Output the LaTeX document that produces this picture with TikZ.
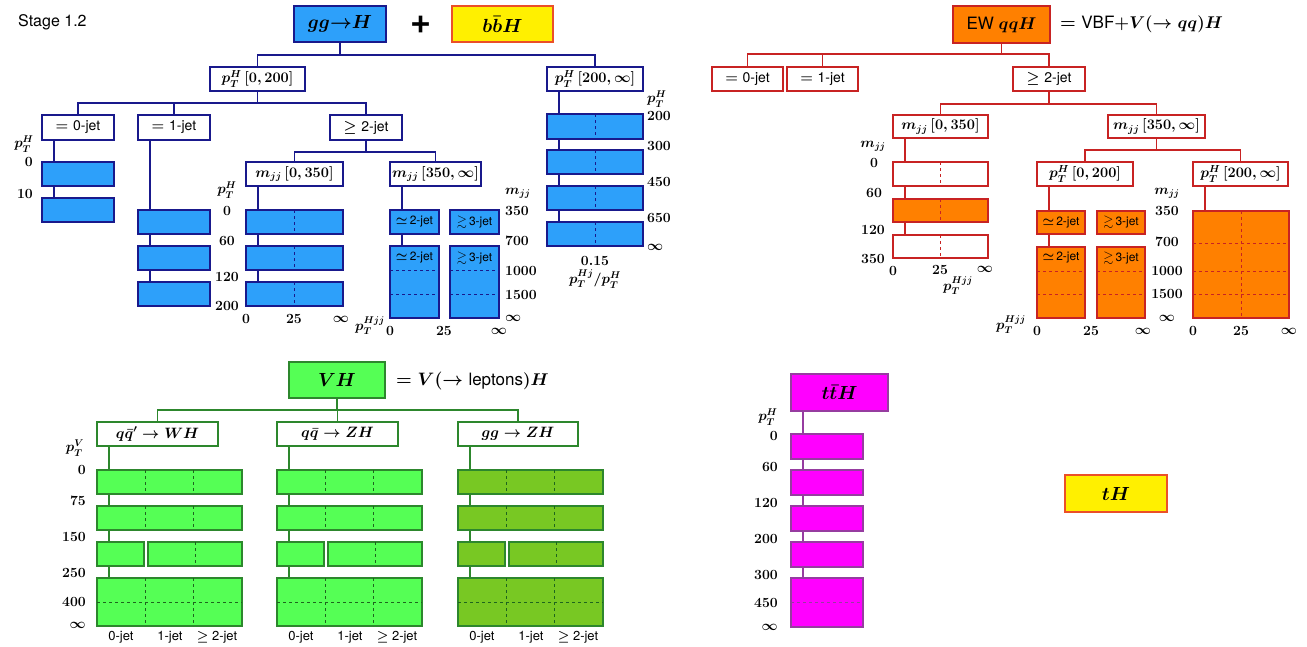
\RequirePackage{fix-cm}
\documentclass[tikz,border=0pt]{standalone}
\usepackage{amsmath,amssymb}
\usepackage[no-math]{fontspec}
\newfontfamily\hv{TeX Gyre Heros}
\usetikzlibrary{calc}
\definecolor{gblue}{RGB}{45,160,250}
\definecolor{navy}{RGB}{25,25,140}
\definecolor{yel}{RGB}{255,240,0}
\definecolor{yelb}{RGB}{235,80,40}
\definecolor{orng}{RGB}{255,128,0}
\definecolor{rdb}{RGB}{200,35,35}
\definecolor{lgrn}{RGB}{85,255,85}
\definecolor{ogrn}{RGB}{120,200,35}
\definecolor{dgrn}{RGB}{45,135,45}
\definecolor{dshg}{RGB}{30,100,30}
\definecolor{mag}{RGB}{255,0,255}
\definecolor{purp}{RGB}{150,60,160}
\newcommand\fs[1]{\fontsize{#1}{#1}\selectfont}
\newcommand\bx[7]{\node[#6, minimum width={(#4)-(#2)}, minimum height={(#5)-(#3)}] (#1) at ({((#2)+(#4))/2},{((#3)+(#5))/2}) {#7};}
\newcommand\vl[3]{\draw[#1] ([xshift=12pt]#2.south west) -- ([xshift=12pt]#3.north west);}
\newcounter{lc}
\newcommand\lab[3][]{\stepcounter{lc}\node[num,#1] (l\arabic{lc}) at (#2) {$#3$};}
\newcommand\jt[1]{{\hv\fs{14}#1}}
\newcommand\sj[1]{{\hv\fs{12}#1}}
\newcommand\vd[2]{\draw[#1] ($(#2.north west)!0.5!(#2.north east)$) -- ($(#2.south west)!0.5!(#2.south east)$);}
\newcommand\vt[2]{\draw[#1] ($(#2.north west)!0.3333!(#2.north east)$) -- ($(#2.south west)!0.3333!(#2.south east)$);
  \draw[#1] ($(#2.north west)!0.6667!(#2.north east)$) -- ($(#2.south west)!0.6667!(#2.south east)$);}
\newcommand\hd[3]{\draw[#1] (#2.west |- 0,#3) -- (#2.east |- 0,#3);}
\begin{document}
\begin{tikzpicture}[x=1pt,y=-1pt,
  bx/.style={draw, line width=1.4pt, inner sep=0pt, outer sep=0pt, text=black},
  num/.style={inner sep=0pt, font=\fs{14}\boldmath},
  nb/.style={bx, draw=navy, fill=white, font=\fs{14.5}\boldmath},
  bb/.style={bx, draw=navy, fill=gblue, font=\fs{13}\boldmath},
  nl/.style={draw=navy, line width=1.3pt},
  nd/.style={draw=navy, line width=1pt, dash pattern=on 3pt off 3pt},
  rb/.style={bx, draw=rdb, fill=white, font=\fs{14.5}\boldmath},
  ob/.style={bx, draw=rdb, fill=orng, font=\fs{13}\boldmath},
  rl/.style={draw=rdb, line width=1.3pt},
  rd/.style={draw=rdb, line width=1pt, dash pattern=on 3pt off 3pt},
  gb/.style={bx, draw=dgrn, fill=white, font=\fs{15}\boldmath},
  lgbox/.style={bx, draw=dgrn, fill=lgrn},
  ogbox/.style={bx, draw=dgrn, fill=ogrn},
  gl/.style={draw=dgrn, line width=1.3pt},
  gd/.style={draw=dshg, line width=1pt, dash pattern=on 3pt off 3pt},
  mb/.style={bx, draw=purp, fill=mag},
  ml/.style={draw=purp, line width=1.3pt},
  md/.style={draw=purp, line width=1pt, dash pattern=on 3pt off 3pt},
  yb/.style={bx, draw=yelb, fill=yel, font=\fs{19}\boldmath},
  big/.style={font=\fs{19}\boldmath},
  jetlab/.style={inner sep=0pt, font=\hv\fs{13}\boldmath}]
\useasboundingbox (0,0) rectangle (1307,646);

% ================= ggH + bbH =================
\node[anchor=west, inner sep=0pt, font=\hv\fs{16}] (stage) at (18,22) {Stage 1.2};
\bx{ggH}{294}{6}{386}{42}{bx,draw=navy,fill=gblue,big}{$gg{\to}H$}
\node[inner sep=0pt, font=\hv\bfseries\fs{36}] (plus) at (421,25) {+};
\bx{bbH}{452}{6}{553}{42}{yb}{$b\bar bH$}
\bx{p1}{210}{67}{305}{91}{nb}{$p_T^H\,[0,200]$}
\bx{p2}{547}{67}{643}{91}{nb}{$p_T^H\,[200,\infty]$}
\draw[nl] (ggH.south) -- ++(0,13) -| (p1.north);
\draw[nl] (ggH.south) ++(0,13) -| (p2.north);
\bx{j0}{42}{115}{114}{140}{nb}{$=$ \jt{0-jet}}
\bx{j1}{138}{115}{210}{140}{nb}{$=$ \jt{1-jet}}
\bx{j2}{330}{115}{402}{140}{nb}{$\geq$ \jt{2-jet}}
\draw[nl] (p1.south) -- ++(0,12) -| (j0.north);
\draw[nl] (p1.south) ++(0,12) -| (j1.north);
\draw[nl] (p1.south) ++(0,12) -| (j2.north);
\bx{m1}{246}{162}{343}{186}{nb}{$m_{jj}\,[0,350]$}
\bx{m2}{390}{162}{481}{186}{nb}{$m_{jj}\,[350,\infty]$}
\draw[nl] (j2.south) -- ++(0,12) -| (m1.north);
\draw[nl] (j2.south) ++(0,12) -| (m2.north);
% 0-jet
\bx{a1}{42}{162}{114}{186}{bb}{}
\bx{a2}{42}{198}{114}{222}{bb}{}
\vl{nl}{j0}{a1}\vl{nl}{a1}{a2}
\lab{24,144}{p_T^H}
\lab[anchor=east]{33,162}{0}
\lab[anchor=east]{33,194}{10}
% 1-jet
\bx{b1}{138}{210}{210}{234}{bb}{}
\bx{b2}{138}{246}{210}{270}{bb}{}
\bx{b3}{138}{282}{210}{306}{bb}{}
\vl{nl}{j1}{b1}\vl{nl}{b1}{b2}\vl{nl}{b2}{b3}
\lab{227,190}{p_T^H}
\lab{227,211}{0}
\lab{227,241}{60}
\lab{227,277}{120}
\lab{227,306}{200}
% mjj 0-350
\bx{c1}{246}{210}{343}{234}{bb}{}
\bx{c2}{246}{246}{343}{270}{bb}{}
\bx{c3}{246}{282}{343}{306}{bb}{}
\vl{nl}{m1}{c1}\vl{nl}{c1}{c2}\vl{nl}{c2}{c3}
\vd{nd}{c1}\vd{nd}{c2}\vd{nd}{c3}
\lab{246,319}{0}
\lab{294,319}{25}
\lab{341,319}{\infty}
% mjj 350-inf
\bx{d1}{390}{210}{439}{234}{bb}{$\simeq$\,\sj{2-jet}}
\bx{d2}{450}{210}{499}{234}{bb}{$\gtrsim$\,\sj{3-jet}}
\bx{d3}{390}{246}{439}{318}{bb}{}
\bx{d4}{450}{246}{499}{318}{bb}{}
\node[inner sep=0pt, font=\fs{13}\boldmath] (d3t) at (414.5,258) {$\simeq$\,\sj{2-jet}};
\node[inner sep=0pt, font=\fs{13}\boldmath] (d4t) at (474.5,258) {$\gtrsim$\,\sj{3-jet}};
\vl{nl}{m2}{d1}\vl{nl}{d1}{d3}
\hd{nd}{d3}{270}\hd{nd}{d3}{294}\hd{nd}{d4}{270}\hd{nd}{d4}{294}
\lab[anchor=west]{505,193}{m_{jj}}
\lab[anchor=west]{505,211}{350}
\lab[anchor=west]{505,241}{700}
\lab[anchor=west]{505,271}{1000}
\lab[anchor=west]{505,295}{1500}
\lab[anchor=west]{505,318}{\infty}
\lab{370,326}{p_T^{Hjj}}
\lab{390,331}{0}
\lab{444,331}{25}
\lab{499,331}{\infty}
% pT 200-inf
\bx{e1}{547}{114}{643}{139}{bb}{}
\bx{e2}{547}{150}{643}{174}{bb}{}
\bx{e3}{547}{186}{643}{210}{bb}{}
\bx{e4}{547}{222}{643}{246}{bb}{}
\vl{nl}{p2}{e1}\vl{nl}{e1}{e2}\vl{nl}{e2}{e3}\vl{nl}{e3}{e4}
\vd{nd}{e1}\vd{nd}{e2}\vd{nd}{e3}\vd{nd}{e4}
\lab[anchor=west]{647,99}{p_T^H}
\lab[anchor=west]{647,116}{200}
\lab[anchor=west]{647,146}{300}
\lab[anchor=west]{647,182}{450}
\lab[anchor=west]{647,218}{650}
\lab[anchor=west]{647,247}{\infty}
\lab{595,261}{0.15}
\lab{595,279}{p_T^{Hj}/p_T^H}

% ================= EW qqH =================
\bx{ew}{953}{6}{1050}{43}{bx,draw=rdb,fill=orng,big}{\hv\fs{17}EW $qqH$}
\node[anchor=west, inner sep=0pt, font=\fs{18}\boldmath] (ewt) at (1060,24) {$=$ \hv\fs{17}VBF$+V(\to qq)H$};
\bx{k0}{712}{67}{783}{91}{rb}{$=$ \jt{0-jet}}
\bx{k1}{787}{67}{858}{91}{rb}{$=$ \jt{1-jet}}
\bx{k2}{1013}{67}{1085}{91}{rb}{$\geq$ \jt{2-jet}}
\draw[rl] (ew.south) -- ++(0,11) -| (k0.north);
\draw[rl] (ew.south) ++(0,11) -| (k1.north);
\draw[rl] (ew.south) ++(0,11) -| (k2.north);
\bx{n1}{893}{115}{988}{138}{rb}{$m_{jj}\,[0,350]$}
\bx{n2}{1108}{115}{1205}{138}{rb}{$m_{jj}\,[350,\infty]$}
\draw[rl] (k2.south) -- ++(0,13) -| (n1.north);
\draw[rl] (k2.south) ++(0,13) -| (n2.north);
\bx{q1}{1037}{162}{1133}{186}{rb}{$p_T^H\,[0,200]$}
\bx{q2}{1193}{162}{1288}{186}{rb}{$p_T^H\,[200,\infty]$}
\draw[rl] (n2.south) -- ++(0,12) -| (q1.north);
\draw[rl] (n2.south) ++(0,12) -| (q2.north);
% mjj 0-350
\bx{f1}{893}{162}{988}{186}{rb}{}
\bx{f2}{893}{199}{988}{222}{ob}{}
\bx{f3}{893}{235}{988}{258}{rb}{}
\vl{rl}{n1}{f1}\vl{rl}{f1}{f2}\vl{rl}{f2}{f3}
\vd{rd}{f1}\vd{rd}{f2}\vd{rd}{f3}
\lab{873,146}{m_{jj}}
\lab{874,163}{0}
\lab{874,193}{60}
\lab{873,230}{120}
\lab{873,259}{350}
\lab{893,271}{0}
\lab{940,270}{25}
\lab{985,269}{\infty}
\lab{958,286}{p_T^{Hjj}}
% pT 0-200
\bx{g1}{1037}{211}{1085}{234}{ob}{$\simeq$\,\sj{2-jet}}
\bx{g2}{1097}{211}{1145}{234}{ob}{$\gtrsim$\,\sj{3-jet}}
\bx{g3}{1037}{247}{1085}{318}{ob}{}
\bx{g4}{1097}{247}{1145}{318}{ob}{}
\node[inner sep=0pt, font=\fs{13}\boldmath] (g3t) at (1061,258) {$\simeq$\,\sj{2-jet}};
\node[inner sep=0pt, font=\fs{13}\boldmath] (g4t) at (1121,258) {$\gtrsim$\,\sj{3-jet}};
\vl{rl}{q1}{g1}\vl{rl}{g1}{g3}
\hd{rd}{g3}{271}\hd{rd}{g3}{294}\hd{rd}{g4}{271}\hd{rd}{g4}{294}
\lab{1167,193}{m_{jj}}
\lab{1167,211}{350}
\lab{1167,242}{700}
\lab{1167,271}{1000}
\lab{1167,294}{1500}
\lab{1167,318}{\infty}
\lab{1011,325}{p_T^{Hjj}}
\lab{1037,331}{0}
\lab{1091,331}{25}
\lab{1143,331}{\infty}
% pT 200-inf
\bx{h1}{1193}{211}{1289}{318}{ob}{}
\vl{rl}{q2}{h1}
\vd{rd}{h1}
\hd{rd}{h1}{243}\hd{rd}{h1}{271}\hd{rd}{h1}{294}
\lab{1193,331}{0}
\lab{1241,331}{25}
\lab{1289,331}{\infty}

% ================= VH =================
\bx{vh}{289}{362}{385}{398}{bx,draw=dgrn,fill=lgrn,big}{$VH$}
\node[anchor=west, inner sep=0pt, font=\fs{18}\boldmath] (vht) at (396,381) {$=V(\to$ \hv\fs{17}leptons$)H$};
\bx{w1}{97}{422}{218}{446}{gb}{$q\bar q'\to WH$}
\bx{w2}{277}{422}{398}{446}{gb}{$q\bar q\to ZH$}
\bx{w3}{458}{422}{578}{446}{gb}{$gg\to ZH$}
\draw[gl] (vh.south) -- ++(0,12) -| (w1.north);
\draw[gl] (vh.south) ++(0,12) -| (w2.north);
\draw[gl] (vh.south) ++(0,12) -| (w3.north);
% column 1
\bx{ra1}{97}{470}{242}{494}{lgbox}{}
\bx{rb1}{97}{506}{242}{530}{lgbox}{}
\bx{rc1}{97}{542}{144}{566}{lgbox}{}
\bx{rd1}{148}{542}{242}{566}{lgbox}{}
\bx{re1}{97}{578}{242}{626}{lgbox}{}
\vl{gl}{w1}{ra1}\vl{gl}{ra1}{rb1}\vl{gl}{rb1}{rc1}\vl{gl}{rc1}{re1}
\vt{gd}{ra1}\vt{gd}{rb1}\vt{gd}{re1}\vd{gd}{rd1}\hd{gd}{re1}{602}
\node[jetlab] (xa1) at (121,637) {0-jet};
\node[jetlab] (xb1) at (170,637) {1-jet};
\node[jetlab] (xc1) at (217,637) {$\geq$ 2-jet};
% column 2
\bx{ra2}{277}{470}{422}{494}{lgbox}{}
\bx{rb2}{277}{506}{422}{530}{lgbox}{}
\bx{rc2}{277}{542}{324}{566}{lgbox}{}
\bx{rd2}{328}{542}{422}{566}{lgbox}{}
\bx{re2}{277}{578}{422}{626}{lgbox}{}
\vl{gl}{w2}{ra2}\vl{gl}{ra2}{rb2}\vl{gl}{rb2}{rc2}\vl{gl}{rc2}{re2}
\vt{gd}{ra2}\vt{gd}{rb2}\vt{gd}{re2}\vd{gd}{rd2}\hd{gd}{re2}{602}
\node[jetlab] (xa2) at (301,637) {0-jet};
\node[jetlab] (xb2) at (350,637) {1-jet};
\node[jetlab] (xc2) at (397,637) {$\geq$ 2-jet};
% column 3
\bx{ra3}{458}{470}{603}{494}{ogbox}{}
\bx{rb3}{458}{506}{603}{530}{ogbox}{}
\bx{rc3}{458}{542}{505}{566}{ogbox}{}
\bx{rd3}{509}{542}{603}{566}{ogbox}{}
\bx{re3}{458}{578}{603}{626}{ogbox}{}
\vl{gl}{w3}{ra3}\vl{gl}{ra3}{rb3}\vl{gl}{rb3}{rc3}\vl{gl}{rc3}{re3}
\vt{gd}{ra3}\vt{gd}{rb3}\vt{gd}{re3}\vd{gd}{rd3}\hd{gd}{re3}{602}
\node[jetlab] (xa3) at (482,637) {0-jet};
\node[jetlab] (xb3) at (531,637) {1-jet};
\node[jetlab] (xc3) at (578,637) {$\geq$ 2-jet};
\lab{75,448}{p_T^V}
\lab[anchor=east]{86,470}{0}
\lab[anchor=east]{86,501}{75}
\lab[anchor=east]{86,537}{150}
\lab[anchor=east]{86,573}{250}
\lab[anchor=east]{86,602}{400}
\lab[anchor=east]{86,625}{\infty}

% ================= ttH, tH =================
\bx{tt}{791}{374}{888}{411}{bx,draw=purp,fill=mag,big}{$t\bar tH$}
\bx{t1}{791}{434}{863}{459}{mb}{}
\bx{t2}{791}{470}{863}{495}{mb}{}
\bx{t3}{791}{506}{863}{531}{mb}{}
\bx{t4}{791}{542}{863}{567}{mb}{}
\bx{t5}{791}{578}{863}{627}{mb}{}
\vl{ml}{tt}{t1}\vl{ml}{t1}{t2}\vl{ml}{t2}{t3}\vl{ml}{t3}{t4}\vl{ml}{t4}{t5}
\hd{md}{t5}{602}
\lab{768,417}{p_T^H}
\lab[anchor=east]{778,436}{0}
\lab[anchor=east]{778,467}{60}
\lab[anchor=east]{778,503}{120}
\lab[anchor=east]{778,539}{200}
\lab[anchor=east]{778,575}{300}
\lab[anchor=east]{778,603}{450}
\lab[anchor=east]{778,627}{\infty}
\bx{tH}{1065}{475}{1167}{512}{yb}{$tH$}
\end{tikzpicture}
\end{document}
